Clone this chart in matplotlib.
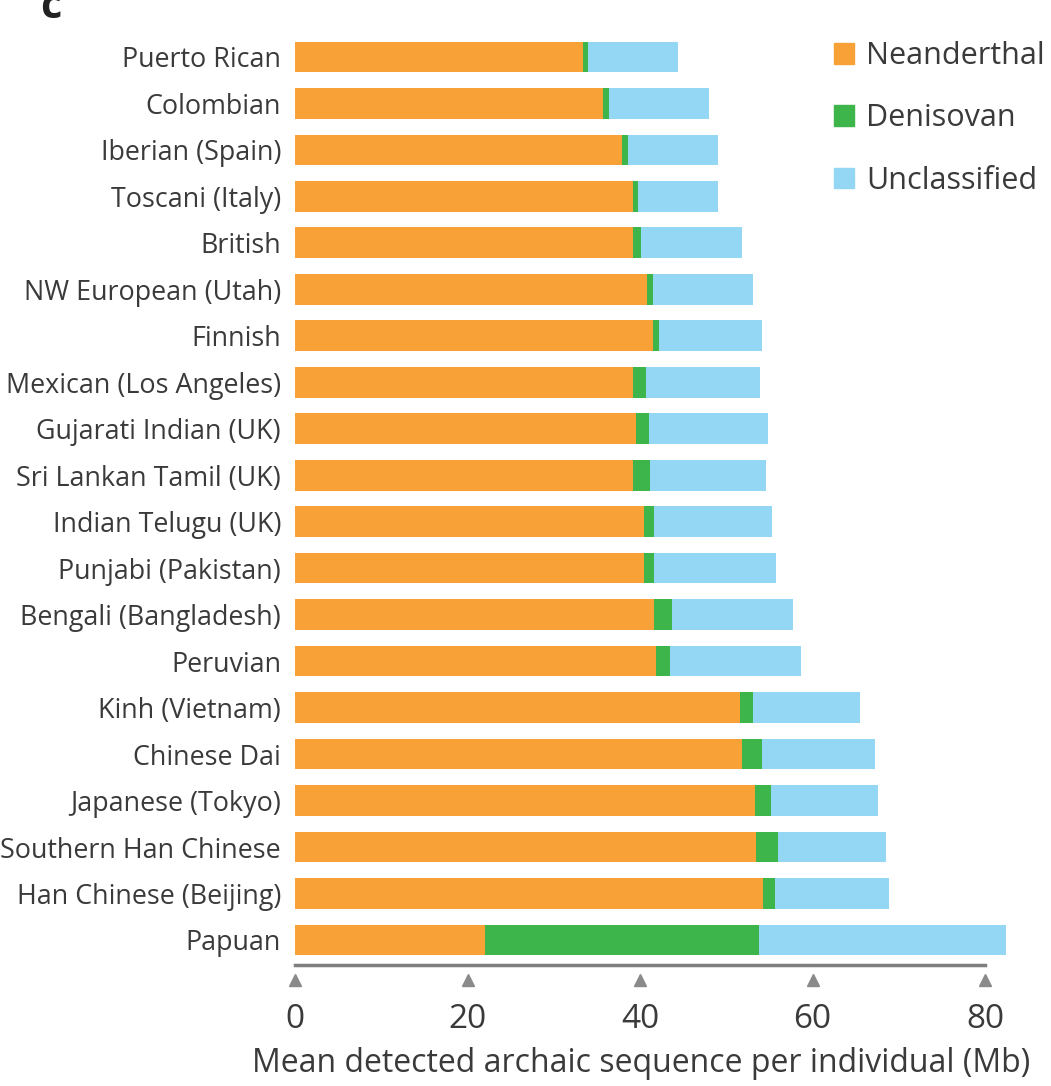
import matplotlib
matplotlib.use("Agg")
import matplotlib.pyplot as plt
from matplotlib.patches import Patch
import numpy as np

plt.rcParams['font.family'] = ['Open Sans', 'DejaVu Sans']

# populations, top to bottom as in the figure
populations = ["Puerto Rican", "Colombian", "Iberian (Spain)", "Toscani (Italy)", "British",
               "NW European (Utah)", "Finnish", "Mexican (Los Angeles)", "Gujarati Indian (UK)",
               "Sri Lankan Tamil (UK)", "Indian Telugu (UK)", "Punjabi (Pakistan)",
               "Bengali (Bangladesh)", "Peruvian", "Kinh (Vietnam)", "Chinese Dai",
               "Japanese (Tokyo)", "Southern Han Chinese", "Han Chinese (Beijing)", "Papuan"]

# Mb per individual
neanderthal = [33.4, 35.7, 37.9, 39.2, 39.2, 40.8, 41.5, 39.2, 39.5, 39.2,
               40.5, 40.5, 41.6, 41.8, 51.6, 51.8, 53.3, 53.4, 54.3, 22.0]
denisovan = [0.6, 0.7, 0.7, 0.6, 0.9, 0.7, 0.7, 1.5, 1.6, 2.0,
             1.1, 1.1, 2.1, 1.7, 1.5, 2.4, 1.9, 2.6, 1.4, 31.8]
total = [44.4, 48.0, 49.1, 49.1, 51.8, 53.1, 54.2, 53.9, 54.8, 54.6,
         55.3, 55.8, 57.7, 58.7, 65.5, 67.2, 67.6, 68.5, 68.9, 82.4]

xticks = [0, 20, 40, 60, 80]

c_nea = "#F7A136"
c_den = "#3DB54A"
c_unc = "#93D7F4"
txt = "#3a3a3a"

nea = np.array(neanderthal)
den = np.array(denisovan)
unc = np.array(total) - nea - den

y = np.arange(len(populations))[::-1]

fig = plt.figure(figsize=(10.51, 10.86), dpi=100)
ax = fig.add_axes([295 / 1051, (1086 - 965) / 1086, 724.5 / 1051, (965 - 29) / 1086])

h = 0.66
ax.barh(y, nea, height=h, color=c_nea)
ax.barh(y, den, left=nea, height=h, color=c_den)
ax.barh(y, unc, left=nea + den, height=h, color=c_unc)

ax.set_xlim(0, 84)
ax.set_ylim(-0.538, 19.6)

ax.set_yticks(y)
ax.set_yticklabels(populations, fontsize=19.4, color=txt)
ax.tick_params(axis='y', length=0, pad=10)

for s in ['top', 'right', 'left']:
    ax.spines[s].set_visible(False)
ax.spines['bottom'].set_bounds(0, 80)
ax.spines['bottom'].set_color('#7f7f7f')
ax.spines['bottom'].set_linewidth(2.5)

ax.set_xticks(xticks)
ax.set_xticklabels([str(t) for t in xticks], fontsize=24, color=txt)
ax.tick_params(axis='x', length=0, pad=27)
# little triangle ticks under the axis line
ax.plot(xticks, [-0.016] * len(xticks), linestyle='none', marker='^', markersize=8,
        color='#8a8a8a', transform=ax.get_xaxis_transform(), clip_on=False)

fig.text(641 / 1051, 1 - 1064 / 1086, "Mean detected archaic sequence per individual (Mb)",
         fontsize=23, color=txt, ha='center', va='center')

handles = [Patch(color=c_nea), Patch(color=c_den), Patch(color=c_unc)]
fig.legend(handles, ["Neanderthal", "Denisovan", "Unclassified"], loc='upper left',
           bbox_to_anchor=(834 / 1051, 1 - 41 / 1086), frameon=False, fontsize=22,
           handlelength=0.66, handleheight=0.66, handletextpad=0.38, labelspacing=1.06,
           labelcolor=txt, borderaxespad=0, borderpad=0)

fig.text(40 / 1051, 1 - 8 / 1086, "c", fontsize=30, fontweight='bold', color='#222222',
         va='center', ha='left')

fig.savefig("out.png", dpi=100)
